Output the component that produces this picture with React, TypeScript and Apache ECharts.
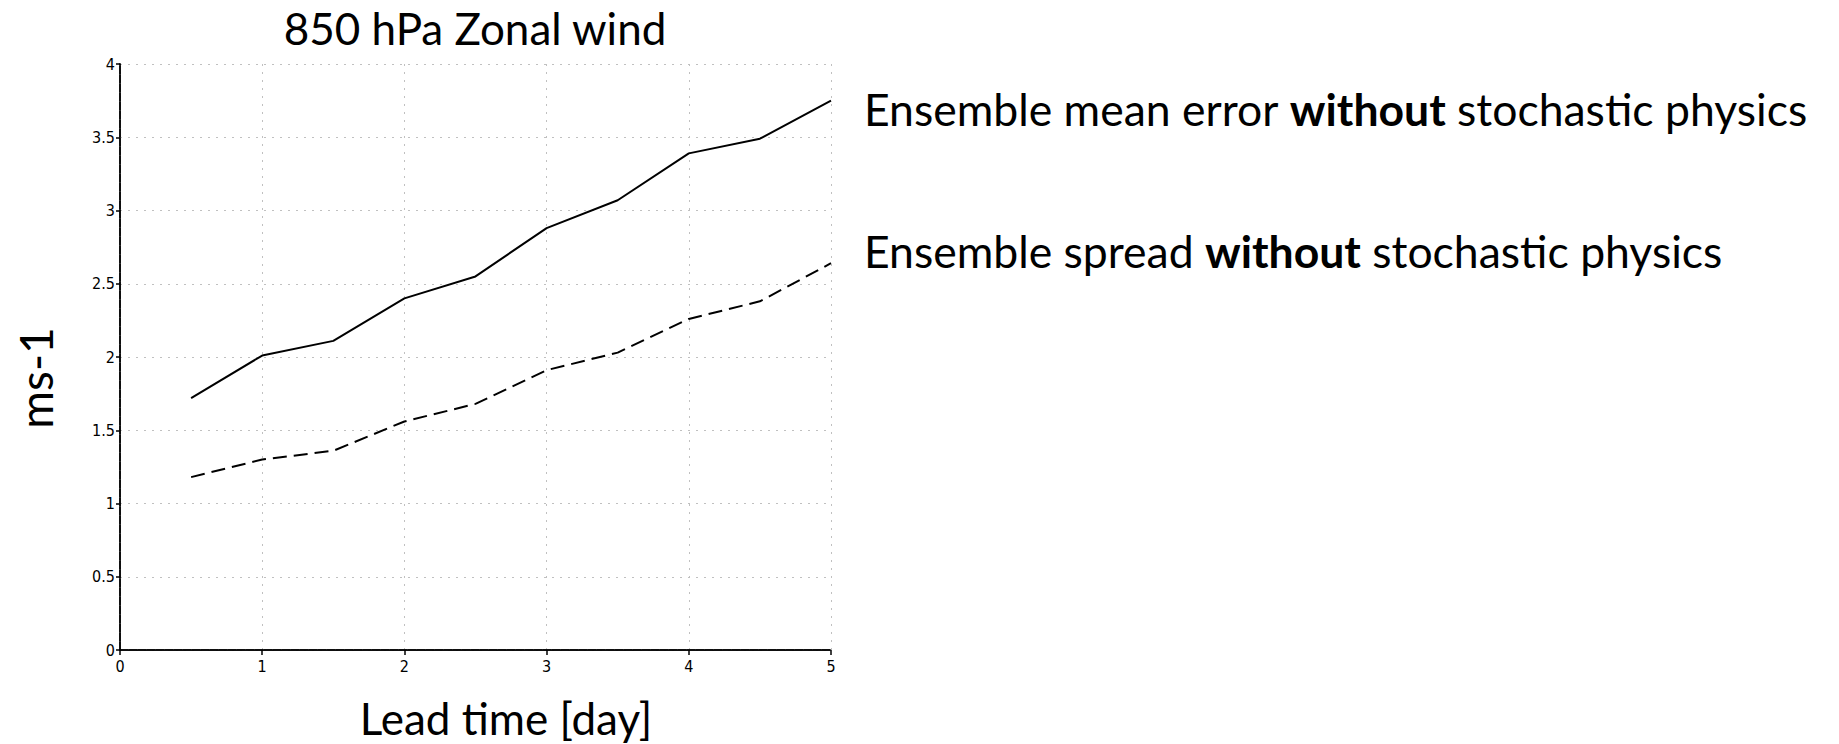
import React, { useEffect, useRef } from "react";
import * as echarts from "echarts";

const leadTimes = [0.5, 1, 1.5, 2, 2.5, 3, 3.5, 4, 4.5, 5];
const meanError = [1.72, 2.01, 2.11, 2.40, 2.55, 2.88, 3.07, 3.39, 3.49, 3.75];
const spread = [1.18, 1.30, 1.36, 1.56, 1.68, 1.91, 2.03, 2.26, 2.38, 2.64];
const titleText = "850 hPa Zonal wind";
const xName = "Lead time [day]";
const yName = "ms-1";
const legendMean = ["Ensemble mean error ", "without", " stochastic physics"];
const legendSpread = ["Ensemble spread ", "without", " stochastic physics"];

const FONT = "Lato, 'Open Sans', sans-serif";
const TICKFONT = "'DejaVu Sans Condensed', 'Liberation Sans Narrow', 'Liberation Sans', sans-serif";

export default function App() {
  const ref = useRef<HTMLDivElement>(null);
  useEffect(() => {
    if (!ref.current) return;
    const chart = echarts.init(ref.current, null, { renderer: "svg" });
    const axisLine = { show: true, lineStyle: { color: "#000", width: 1.5, type: [8, 1] as any } };
    const splitLine = { show: true, lineStyle: { color: "#c0c0c0", width: 1, type: [2, 6] as any } };
    const rich = {
      n: { fontFamily: FONT, fontSize: 44.5, color: "#000" },
      b: { fontFamily: FONT, fontSize: 44.5, fontWeight: "bold", color: "#000" },
    };
    chart.setOption({
      animation: false,
      backgroundColor: "#fff",
      title: {
        text: titleText,
        left: 470,
        top: 1,
        textAlign: "center",
        textStyle: { fontFamily: FONT, fontSize: 44, fontWeight: "normal", color: "#000" },
      },
      grid: { left: 120, top: 64, width: 711, height: 586, show: false },
      xAxis: [
        {
          type: "value",
          min: 0,
          max: 5,
          interval: 1,
          axisLine,
          axisTick: { show: true, length: 5, lineStyle: { color: "#000", width: 1.5 } },
          axisLabel: { fontFamily: TICKFONT, fontSize: 16, color: "#000", margin: 8 },
          splitLine,
        },
        {
          type: "value",
          position: "top",
          min: 0,
          max: 5,
          interval: 1,
          axisLine,
          axisTick: { show: false },
          axisLabel: { show: false },
          splitLine: { show: false },
        },
      ],
      yAxis: [
        {
          type: "value",
          min: 0,
          max: 4,
          interval: 0.5,
          axisLine,
          axisTick: { show: true, length: 4, lineStyle: { color: "#000", width: 1.5 } },
          axisLabel: { fontFamily: TICKFONT, fontSize: 16, color: "#000", margin: 5 },
          splitLine,
        },
        {
          type: "value",
          position: "right",
          min: 0,
          max: 4,
          interval: 0.5,
          axisLine,
          axisTick: { show: false },
          axisLabel: { show: false },
          splitLine: { show: false },
        },
      ],
      series: [
        {
          name: "Ensemble mean error without stochastic physics",
          type: "line",
          data: leadTimes.map((x, i) => [x, meanError[i]]),
          symbol: "none",
          lineStyle: { color: "#000", width: 2 },
        },
        {
          name: "Ensemble spread without stochastic physics",
          type: "line",
          data: leadTimes.map((x, i) => [x, spread[i]]),
          symbol: "none",
          lineStyle: { color: "#000", width: 2, type: [14, 7] as any },
        },
      ],
      graphic: [
        {
          type: "text",
          x: 35,
          y: 378,
          rotation: Math.PI / 2,
          style: {
            text: yName,
            fontFamily: FONT,
            fontSize: 46,
            fill: "#000",
            align: "center",
            verticalAlign: "middle",
          },
        },
        {
          type: "text",
          x: 506,
          y: 718,
          style: {
            text: xName,
            fontFamily: FONT,
            fontSize: 44,
            fill: "#000",
            align: "center",
            verticalAlign: "middle",
          },
        },
        {
          type: "text",
          left: 864,
          top: 86,
          style: {
            text: `{n|${legendMean[0]}}{b|${legendMean[1]}}{n|${legendMean[2]}}`,
            rich,
          },
        },
        {
          type: "text",
          left: 864,
          top: 228,
          style: {
            text: `{n|${legendSpread[0]}}{b|${legendSpread[1]}}{n|${legendSpread[2]}}`,
            rich,
          },
        },
      ],
    });
    return () => chart.dispose();
  }, []);
  return (
    <div
      ref={ref}
      style={{ position: "fixed", left: 0, top: 0, width: 1839, height: 744, background: "#fff" }}
    />
  );
}
